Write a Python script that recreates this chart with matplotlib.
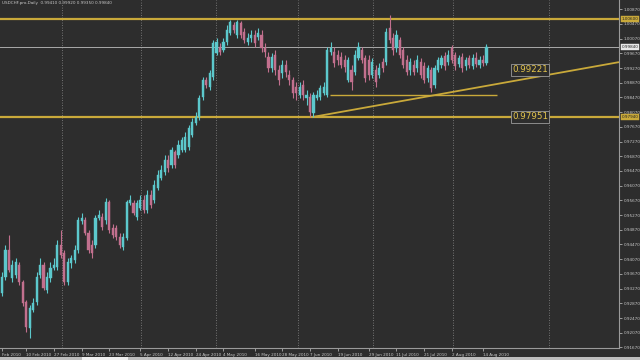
import matplotlib
matplotlib.use("Agg")
import matplotlib.pyplot as plt
import numpy as np
from matplotlib.patches import Rectangle

# ---------------- data (daily OHLC) ----------------
opens = [0.9315,0.9359,0.9432,0.9356,0.9364,0.9391,0.9345,0.9291,0.9220,0.9269,
         0.9291,0.9364,0.9391,0.9323,0.9356,0.9383,0.9386,0.9446,0.9424,0.9345,
         0.9397,0.9405,0.9432,0.9511,0.9514,0.9478,0.9446,0.9446,0.9519,0.9522,
         0.9514,0.9563,0.9492,0.9492,0.9467,0.9440,0.9465,0.9560,0.9560,0.9522,
         0.9546,0.9568,0.9541,0.9582,0.9568,0.9601,0.9628,0.9644,0.9677,0.9663,
         0.9699,0.9690,0.9704,0.9704,0.9712,0.9745,0.9777,0.9794,0.9848,0.9894,
         0.9875,0.9903,0.9968,0.9984,0.9976,0.9998,1.0022,1.0044,1.0017,1.0049,
         1.0025,0.9998,1.0009,1.0017,1.0011,1.0017,0.9981,0.9957,0.9927,0.9962,
         0.9922,0.9913,0.9935,0.9908,0.9894,0.9875,0.9854,0.9881,0.9845,0.9848,
         0.9805,0.9845,0.9848,0.9859,0.9854,0.9971,0.9971,0.9962,0.9957,0.9949,
         0.9894,0.9922,0.9916,0.9954,0.9976,0.9954,0.9949,0.9908,0.9922,0.9908,
         0.9943,0.9943,1.0036,1.0009,0.9981,1.0003,0.9976,0.9949,0.9922,0.9935,
         0.9927,0.9943,0.9932,0.9900,0.9922,0.9881,0.9922,0.9935,0.9960,0.9943,
         0.9981,0.9962,0.9938,0.9957,0.9932,0.9954,0.9932,0.9954,0.9935,0.9949,
         0.9941]
closes = [0.9359,0.9432,0.9378,0.9391,0.9399,0.9345,0.9288,0.9223,0.9274,0.9288,
          0.9359,0.9391,0.9329,0.9359,0.9383,0.9391,0.9446,0.9418,0.9345,0.9399,
          0.9410,0.9432,0.9514,0.9519,0.9478,0.9432,0.9424,0.9519,0.9527,0.9495,
          0.9563,0.9486,0.9473,0.9467,0.9446,0.9467,0.9563,0.9568,0.9533,0.9560,
          0.9568,0.9541,0.9582,0.9554,0.9609,0.9636,0.9650,0.9677,0.9655,0.9704,
          0.9663,0.9718,0.9731,0.9739,0.9764,0.9780,0.9794,0.9845,0.9894,0.9881,
          0.9913,0.9995,0.9998,0.9971,0.9998,1.0030,1.0052,1.0030,1.0052,1.0017,
          1.0003,1.0009,1.0017,0.9995,1.0022,0.9981,0.9971,0.9927,0.9957,0.9922,
          0.9894,0.9935,0.9916,0.9894,0.9859,0.9859,0.9875,0.9854,0.9854,0.9807,
          0.9854,0.9854,0.9873,0.9875,0.9976,0.9981,0.9941,0.9949,0.9935,0.9930,
          0.9949,0.9889,0.9962,0.9984,0.9949,0.9900,0.9908,0.9943,0.9889,0.9927,
          0.9927,1.0025,1.0003,0.9976,1.0017,0.9962,0.9935,0.9916,0.9943,0.9916,
          0.9949,0.9908,0.9894,0.9927,0.9873,0.9927,0.9949,0.9954,0.9932,0.9962,
          0.9949,0.9932,0.9954,0.9927,0.9949,0.9935,0.9954,0.9938,0.9949,0.9941,
          0.9984]
highs = [0.9372,0.9446,0.9473,0.9405,0.9410,0.9399,0.9350,0.9296,0.9282,0.9301,
         0.9372,0.9410,0.9399,0.9372,0.9399,0.9410,0.9459,0.9486,0.9432,0.9410,
         0.9418,0.9446,0.9522,0.9533,0.9522,0.9486,0.9459,0.9527,0.9541,0.9533,
         0.9573,0.9568,0.9503,0.9500,0.9478,0.9478,0.9568,0.9582,0.9568,0.9568,
         0.9582,0.9582,0.9595,0.9595,0.9622,0.9650,0.9663,0.9690,0.9690,0.9712,
         0.9704,0.9731,0.9739,0.9753,0.9772,0.9791,0.9807,0.9854,0.9903,0.9903,
         0.9922,1.0003,1.0009,0.9995,1.0009,1.0044,1.0058,1.0052,1.0058,1.0055,
         1.0036,1.0022,1.0030,1.0030,1.0036,1.0030,0.9995,0.9971,0.9968,0.9976,
         0.9935,0.9949,0.9949,0.9922,0.9903,0.9889,0.9889,0.9894,0.9867,0.9859,
         0.9862,0.9867,0.9881,0.9889,0.9984,0.9998,0.9984,0.9976,0.9971,0.9962,
         0.9957,0.9935,0.9976,0.9998,0.9984,0.9962,0.9962,0.9954,0.9935,0.9941,
         0.9954,1.0036,1.0071,1.0022,1.0030,1.0011,0.9984,0.9962,0.9954,0.9949,
         0.9962,0.9954,0.9943,0.9935,0.9930,0.9935,0.9957,0.9962,0.9971,0.9976,
         0.9990,0.9971,0.9962,0.9968,0.9957,0.9962,0.9965,0.9971,0.9960,0.9962,
         0.9992]
lows = [0.9307,0.9350,0.9372,0.9345,0.9356,0.9337,0.9280,0.9209,0.9193,0.9263,
        0.9282,0.9356,0.9323,0.9315,0.9345,0.9378,0.9378,0.9410,0.9337,0.9337,
        0.9383,0.9397,0.9424,0.9503,0.9473,0.9424,0.9410,0.9437,0.9514,0.9486,
        0.9503,0.9478,0.9465,0.9459,0.9437,0.9432,0.9459,0.9554,0.9527,0.9514,
        0.9541,0.9533,0.9533,0.9546,0.9560,0.9595,0.9622,0.9636,0.9644,0.9655,
        0.9655,0.9682,0.9699,0.9699,0.9704,0.9739,0.9772,0.9786,0.9840,0.9873,
        0.9867,0.9894,0.9962,0.9962,0.9971,0.9990,1.0017,1.0022,1.0009,1.0009,
        0.9995,0.9990,0.9998,0.9984,1.0003,0.9971,0.9957,0.9916,0.9916,0.9908,
        0.9881,0.9900,0.9903,0.9881,0.9845,0.9840,0.9845,0.9840,0.9826,0.9794,
        0.9794,0.9840,0.9840,0.9854,0.9848,0.9962,0.9930,0.9935,0.9927,0.9916,
        0.9889,0.9867,0.9908,0.9949,0.9941,0.9889,0.9894,0.9900,0.9875,0.9900,
        0.9916,0.9935,0.9995,0.9962,0.9971,0.9954,0.9927,0.9908,0.9908,0.9908,
        0.9916,0.9900,0.9886,0.9889,0.9862,0.9873,0.9916,0.9927,0.9922,0.9935,
        0.9941,0.9922,0.9930,0.9916,0.9922,0.9927,0.9924,0.9930,0.9927,0.9932,
        0.9935]

date_labels = ["Feb 2010", "10 Feb 2010", "27 Feb 2010", "9 Mar 2010", "23 Mar 2010",
               "5 Apr 2010", "12 Apr 2010", "24 Apr 2010", "4 May 2010", "16 May 2010",
               "28 May 2010", "7 Jun 2010", "19 Jun 2010", "29 Jun 2010", "11 Jul 2010",
               "21 Jul 2010", "2 Aug 2010", "14 Aug 2010"]
date_label_bars = [0, 7, 15, 23, 31, 40, 48, 56, 64, 73, 81, 89, 97, 106, 114, 122, 130, 139]
grid_bars = [17.3, 40.2, 61.8, 85.5, 107.2, 130.3, 158.1]

price_ticks = [0.91670 + 0.004 * k for k in range(24)]

resistance = 1.0060       # upper yellow line
current_price = 0.9984    # white line
support = 0.9794          # lower yellow line
mid_level = 0.9854        # short yellow level
mid_level_span = (94.8, 143.1)
trend_start = (89.9, 0.9794)
trend_end = (178.3, 0.9943)
label_upper = "0.99221"
label_lower = "0.97951"
label_upper_price = 0.9922
label_lower_price = 0.9794
label_bar = 152.6
title_text = "USDCHF.pro,Daily  0.99410 0.99920 0.99350 0.99840"

# ---------------- styling ----------------
BG = "#2d2d2d"
UP = "#5cc8cc"
DN = "#c2708e"
GOLD = "#c9a93a"
TXT = "#c8c8c8"
FS = 3.0

W, H = 640, 360
fig = plt.figure(figsize=(W / 100, H / 100), dpi=100, facecolor=BG)
ax = fig.add_axes([0, (H - 348) / H, 619 / W, 348 / H], facecolor=BG)

n = len(opens)
x = np.arange(n)
o = np.array(opens); c = np.array(closes); hi = np.array(highs); lo = np.array(lows)
up = c >= o
cols = np.where(up, UP, DN)

ax.vlines(x, lo, hi, colors=cols, linewidth=0.8, zorder=3)
body_bottom = np.minimum(o, c)
body_h = np.maximum(np.abs(c - o), 0.00008)
ax.bar(x, body_h, bottom=body_bottom, width=0.62, color=cols, edgecolor=cols,
       linewidth=0.3, zorder=4)

ax.set_xlim(-0.58, 178.3)
ax.set_ylim(0.91654, 1.0112)

# vertical dotted grid
for g in grid_bars:
    ax.axvline(g, color="#8a8a8a", linestyle=(0, (1, 2)), linewidth=0.6, zorder=1)

# horizontal levels
ax.axhline(resistance, color=GOLD, linewidth=1.6, zorder=2)
ax.axhline(support, color=GOLD, linewidth=1.6, zorder=2)
ax.axhline(current_price, color="#a9a9a9", linewidth=0.7, zorder=2)
ax.hlines(mid_level, mid_level_span[0], mid_level_span[1], color=GOLD, linewidth=1.0, zorder=2)
ax.plot([trend_start[0], trend_end[0]], [trend_start[1], trend_end[1]], color=GOLD,
        linewidth=1.3, zorder=2, solid_capstyle="butt")

# text labels in the chart
for txt, pr in [(label_upper, label_upper_price), (label_lower, label_lower_price)]:
    ax.text(label_bar, pr, txt, color="#e3c44c", fontsize=6.3, ha="center", va="center",
            zorder=6, family="DejaVu Sans",
            bbox=dict(boxstyle="square,pad=0.15", facecolor=BG, edgecolor="#9a9a9a",
                      linewidth=0.6))

# title
ax.text(0.003, 0.997, title_text, transform=ax.transAxes, color=TXT, fontsize=FS,
        ha="left", va="top", zorder=6)

# axes styling
for s in ["top", "left"]:
    ax.spines[s].set_visible(False)
ax.spines["right"].set_color("#9a9a9a")
ax.spines["bottom"].set_color("#9a9a9a")
ax.spines["right"].set_linewidth(0.8)
ax.spines["bottom"].set_linewidth(0.8)
ax.yaxis.tick_right()
ax.set_yticks(price_ticks)
ax.set_yticklabels([f"{v:.5f}" for v in price_ticks])
ax.tick_params(axis="y", colors=TXT, labelsize=FS, length=2, width=0.5, pad=1.2)
ax.set_xticks(date_label_bars)
ax.set_xticklabels(date_labels, ha="left")
ax.tick_params(axis="x", colors=TXT, labelsize=FS, length=2.5, width=0.5, pad=1.0,
               direction="out")
for lbl in ax.get_xticklabels():
    lbl.set_horizontalalignment("left")

# price boxes on the right axis
for pr, fc in [(resistance, GOLD), (current_price, "#e8e8e8"), (support, GOLD)]:
    ax.text(1.004, pr, f"{pr:.5f}", transform=ax.get_yaxis_transform(), color="#202020",
            fontsize=FS, ha="left", va="center", zorder=7, clip_on=False,
            bbox=dict(boxstyle="square,pad=0.2", facecolor=fc, edgecolor=fc, linewidth=0.3))

# bottom scrollbar strip
fig.patches.append(Rectangle((0, 0), 1, 3 / H, transform=fig.transFigure,
                             facecolor="#bdbdbd", edgecolor="none", zorder=0))
fig.patches.append(Rectangle((82 / W, 0), 46 / W, 3 / H, transform=fig.transFigure,
                             facecolor="#f0f0f0", edgecolor="none", zorder=1))

fig.savefig("out.png", dpi=100, facecolor=BG)
